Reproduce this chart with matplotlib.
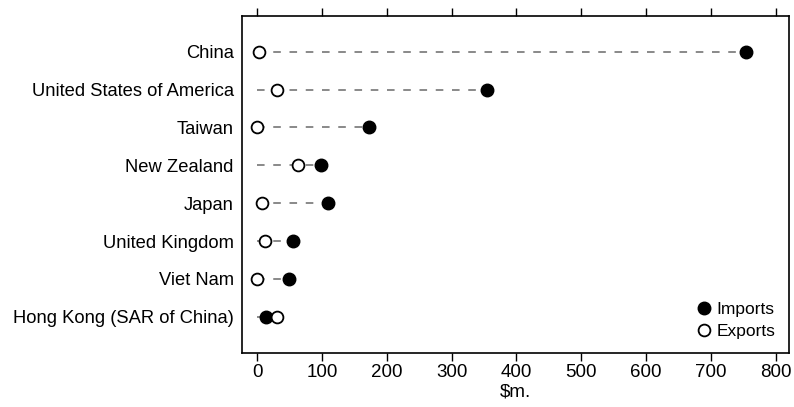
import numpy as np
import matplotlib
matplotlib.use('Agg')
import matplotlib.pyplot as plt

plt.rcParams['font.family'] = ['Liberation Sans', 'DejaVu Sans']

countries = ["China", "United States of America", "Taiwan", "New Zealand",
             "Japan", "United Kingdom", "Viet Nam", "Hong Kong (SAR of China)"]
imports = [754, 354, 172, 99, 110, 56, 49, 14]
exports = [3, 31, 0, 63, 8, 12, 0, 31]

xticks = [0, 100, 200, 300, 400, 500, 600, 700, 800]

fig = plt.figure(figsize=(7.94, 4.07), dpi=100)
ax = fig.add_axes([0.305, 0.1334, 0.689, 0.828])

y = np.arange(len(countries))[::-1]

# dashed guide from zero to the larger value
for yi, imp, exp in zip(y, imports, exports):
    ax.plot([0, max(imp, exp)], [yi, yi], color='#808080', lw=1.3,
            dashes=(4.2, 4.8), zorder=1)

ax.plot(imports, y, 'o', color='black', markersize=9, label='Imports', zorder=3)
ax.plot(exports, y, 'o', markerfacecolor='white', markeredgecolor='black',
        markeredgewidth=1.3, markersize=8.5, label='Exports', zorder=3)

ax.set_xlim(-23, 821)
ax.set_ylim(-0.95, 7.95)
ax.set_yticks(y)
ax.set_yticklabels(countries, fontsize=13.2)
ax.tick_params(axis='y', length=0, pad=6)
ax.set_xticks(xticks)
ax.tick_params(axis='x', direction='out', length=6, width=1, labelsize=13.5,
               top=True, labeltop=False, pad=2)
ax.set_xlabel('$m.', fontsize=13.5, labelpad=2)
for s in ax.spines.values():
    s.set_linewidth(1.2)

ax.legend(loc='lower right', frameon=False, fontsize=12.5, handletextpad=0.1,
          borderaxespad=0.4, labelspacing=0.4, handlelength=1.2)

fig.savefig('out.png', dpi=100)
